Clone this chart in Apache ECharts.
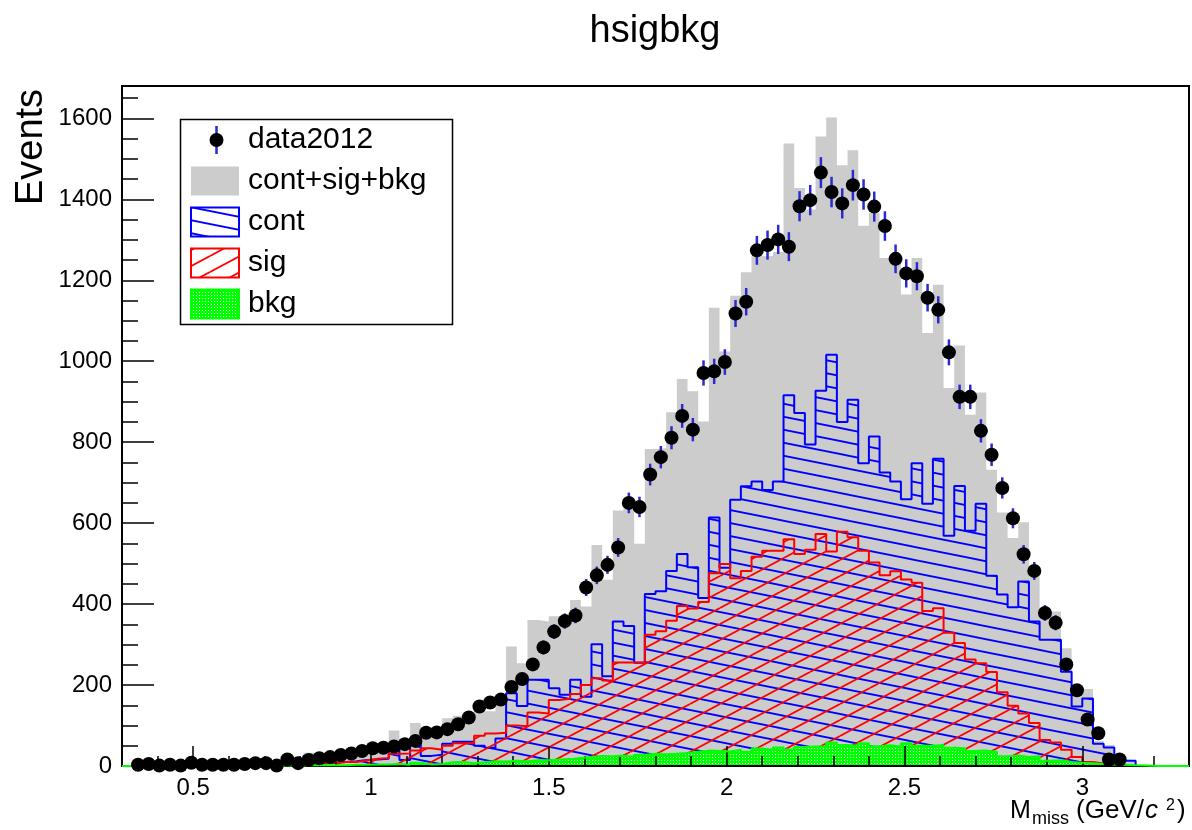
<!DOCTYPE html>
<html>
<head>
<meta charset="utf-8">
<script src="https://cdn.jsdelivr.net/npm/echarts@6/dist/echarts.min.js"></script>
<style>
  html, body { margin: 0; padding: 0; background: #ffffff; }
  #chart { width: 1192px; height: 830px; }
</style>
</head>
<body>
<div id="chart"></div>
<script>
// Binning of the missing-mass histograms: 100 bins of 0.03 GeV/c^2 starting at 0.3
const binLow = 0.3;
const binWidth = 0.03;

// Observed events (data2012), one entry per bin
const dataCounts = [
  0, 3, 5, 1, 3, 1, 8, 3, 3, 3,
  3, 5, 7, 7, 1, 16, 7, 15, 19, 22,
  27, 31, 37, 44, 45, 48, 54, 62, 82, 83,
  91, 103, 120, 147, 157, 164, 195, 215, 251, 293,
  332, 358, 372, 441, 471, 497, 540, 650, 640, 720,
  763, 811, 865, 831, 971, 975, 998, 1118, 1147, 1274,
  1287, 1301, 1283, 1383, 1398, 1466, 1418, 1390, 1435, 1412,
  1382, 1334, 1253, 1217, 1210, 1157, 1127, 1022, 912, 912,
  828, 769, 687, 612, 523, 482, 378, 354, 251, 187,
  115, 81, 16, 16, 0, 0, 0, 0, 0, 0
];

// cont+sig+bkg
const totalCounts = [
  0, 0, 0, 0, 0, 0, 1, 1, 1, 1,
  2, 2, 3, 3, 5, 10, 12, 33, 30, 25,
  28, 30, 35, 40, 45, 88, 52, 106, 76, 78,
  118, 124, 124, 135, 135, 160, 295, 254, 361, 357,
  370, 372, 410, 394, 546, 460, 631, 640, 549, 783,
  785, 874, 956, 926, 851, 1132, 1024, 1162, 1220, 1260,
  1260, 1270, 1538, 1428, 1375, 1555, 1602, 1484, 1521, 1335,
  1367, 1255, 1240, 1165, 1255, 1070, 1189, 934, 1039, 868,
  923, 732, 626, 563, 602, 490, 382, 382, 291, 190,
  190, 62, 52, 16, 15, 0, 0, 0, 0, 0
];

// cont
const contCounts = [
  0, 0, 0, 0, 0, 0, 0, 0, 0, 0,
  0, 0, 0, 0, 0, 2, 3, 25, 10, 8,
  10, 12, 15, 16, 18, 52, 15, 60, 25, 28,
  55, 60, 60, 50, 45, 68, 180, 148, 213, 213,
  192, 176, 213, 171, 301, 222, 357, 346, 255, 425,
  432, 482, 524, 491, 415, 614, 490, 658, 691, 703,
  682, 703, 916, 872, 794, 927, 1016, 850, 905, 748,
  814, 725, 703, 659, 748, 648, 759, 569, 692, 581,
  648, 470, 424, 392, 456, 357, 312, 312, 233, 147,
  167, 55, 46, 13, 13, 0, 0, 0, 0, 0
];

// sig
const sigCounts = [
  0, 0, 0, 0, 0, 0, 0, 0, 0, 0,
  0, 0, 0, 0, 0, 1, 2, 5, 6, 8,
  10, 10, 14, 18, 20, 30, 31, 38, 44, 40,
  50, 56, 56, 75, 80, 82, 100, 98, 132, 130,
  163, 166, 178, 200, 217, 211, 256, 256, 256, 324,
  333, 359, 395, 389, 405, 476, 499, 464, 482, 517,
  532, 532, 560, 524, 534, 573, 530, 579, 565, 532,
  503, 471, 481, 461, 453, 383, 390, 329, 304, 263,
  254, 232, 182, 149, 130, 106, 64, 58, 40, 22,
  10, 6, 2, 0, 0, 0, 0, 0, 0, 0
];

// bkg
const bkgCounts = [
  0, 0, 0, 0, 0, 0, 0, 0, 0, 0,
  0, 0, 0, 0, 1, 1, 1, 2, 2, 2,
  2, 3, 3, 4, 4, 5, 3, 8, 4, 5,
  9, 10, 7, 9, 12, 11, 13, 12, 14, 14,
  16, 17, 20, 22, 25, 24, 26, 23, 28, 30,
  29, 30, 32, 35, 38, 37, 36, 40, 35, 43,
  40, 46, 41, 47, 48, 48, 58, 52, 50, 56,
  49, 51, 48, 56, 50, 50, 52, 45, 44, 37,
  38, 35, 24, 26, 22, 24, 13, 14, 10, 8,
  7, 5, 4, 3, 2, 1, 0, 0, 0, 0
];

// Axis tick positions
const xMajorTicks = [0.5, 1, 1.5, 2, 2.5, 3];
const xMinorTicks = [0.4, 0.6, 0.7, 0.8, 0.9, 1.1, 1.2, 1.3, 1.4, 1.6, 1.7, 1.8, 1.9,
                     2.1, 2.2, 2.3, 2.4, 2.6, 2.7, 2.8, 2.9, 3.1, 3.2];
const yMajorTicks = [0, 200, 400, 600, 800, 1000, 1200, 1400, 1600];
const yMinorTicks = [50, 100, 150, 250, 300, 350, 450, 500, 550, 650, 700, 750,
                     850, 900, 950, 1050, 1100, 1150, 1250, 1300, 1350, 1450, 1500, 1550, 1650];

const legendLabels = ['data2012', 'cont+sig+bkg', 'cont', 'sig', 'bkg'];

const FONT = '"Liberation Sans", Arial, Helvetica, sans-serif';

// ---- fill patterns (ROOT-like hatches) ----
function makeTile(w, h, paint) {
  const c = document.createElement('canvas');
  c.width = w; c.height = h;
  paint(c.getContext('2d'), w, h);
  return c;
}
const blueHatch = makeTile(65, 13, (g, w, h) => {
  g.strokeStyle = '#0000ff'; g.lineWidth = 1.8;
  for (const o of [-h, 0, h]) { g.beginPath(); g.moveTo(0, o); g.lineTo(w, o + h); g.stroke(); }
});
const redHatch = makeTile(30, 16, (g, w, h) => {
  g.strokeStyle = '#ff0000'; g.lineWidth = 1.8;
  for (const o of [-h, 0, h]) { g.beginPath(); g.moveTo(0, o + h); g.lineTo(w, o); g.stroke(); }
});
const greenDots = makeTile(3, 3, (g) => {
  g.fillStyle = '#00ff00'; g.fillRect(0, 0, 3, 3);
  g.fillStyle = '#e8ffe8'; g.fillRect(1, 1, 1, 1);
});
const bluePattern = { image: blueHatch, repeat: 'repeat' };
const redPattern = { image: redHatch, repeat: 'repeat' };
const greenPattern = { image: greenDots, repeat: 'repeat' };

// ---- histogram as a stepped outline over the bin edges ----
function histSeries(name, counts, lineColor, fill, z) {
  const pts = counts.map((v, k) => [binLow + k * binWidth, v]);
  pts.push([binLow + counts.length * binWidth, counts[counts.length - 1]]);
  return {
    type: 'line', name: name, data: pts, step: 'end',
    symbol: 'none', showSymbol: false, silent: true, animation: false, z: z,
    lineStyle: lineColor ? { color: lineColor, width: 2 } : { width: 0, opacity: 0 },
    areaStyle: { color: fill, opacity: 1 },
    emphasis: { disabled: true }
  };
}

const dataPoints = dataCounts
  .map((v, k) => [binLow + (k + 0.5) * binWidth, v])
  .filter(d => d[1] > 0);

const chart = echarts.init(document.getElementById('chart'), null, { renderer: 'canvas' });

// ---- x-axis title: M_miss (GeV/c^2), laid out piece by piece ----
const xTitleParts = [
  { t: 'M', font: '25px ' + FONT, x: 1010, mid: 811 },
  { t: 'miss', font: '18px ' + FONT, x: 1032, mid: 819.5 },
  { t: '(GeV/', font: '26px ' + FONT, x: 1076, mid: 811 },
  { t: 'c', font: 'italic 26px ' + FONT, x: 1145, mid: 811 },
  { t: '2', font: '16px ' + FONT, x: 1166, mid: 806 },
  { t: ')', font: '26px ' + FONT, x: 1177, mid: 811 }
];
const xTitleElements = xTitleParts.map(p => ({
  type: 'text', x: p.x, y: p.mid, z: 50,
  style: { text: p.t, font: p.font, fill: '#000', textAlign: 'left', textVerticalAlign: 'middle' }
}));

// ---- legend box ----
const legX = 180.5, legY = 119.5, legW = 272, legH = 205;
const rowMid = [140, 181, 222, 263, 304];
const symX = 191, symW = 48, symH = 29;
const legendElements = [
  { type: 'rect', z: 60, shape: { x: legX, y: legY, width: legW, height: legH },
    style: { fill: '#ffffff', stroke: '#000000', lineWidth: 1.5 } },
  { type: 'line', z: 61, shape: { x1: 216.5, y1: rowMid[0] - 14, x2: 216.5, y2: rowMid[0] + 14 },
    style: { stroke: '#2a2ad0', lineWidth: 2.5 } },
  { type: 'circle', z: 62, shape: { cx: 216.5, cy: rowMid[0], r: 7 }, style: { fill: '#000000' } },
  { type: 'rect', z: 61, shape: { x: symX, y: rowMid[1] - symH / 2, width: symW, height: symH },
    style: { fill: '#cccccc' } },
  { type: 'rect', z: 61, shape: { x: symX, y: rowMid[2] - symH / 2, width: symW, height: symH },
    style: { fill: bluePattern, stroke: '#0000ff', lineWidth: 2 } },
  { type: 'rect', z: 61, shape: { x: symX, y: rowMid[3] - symH / 2, width: symW, height: symH },
    style: { fill: redPattern, stroke: '#ff0000', lineWidth: 2 } },
  { type: 'rect', z: 61, shape: { x: symX, y: rowMid[4] - symH / 2, width: symW, height: symH },
    style: { fill: greenPattern, stroke: '#00ff00', lineWidth: 2 } }
];
legendLabels.forEach((lab, i) => {
  legendElements.push({
    type: 'text', z: 62, x: 248, y: rowMid[i],
    style: { text: lab, font: '30px ' + FONT, fill: '#000', textAlign: 'left', textVerticalAlign: 'middle' }
  });
});

const axisFont = { fontSize: 24, fontFamily: FONT, color: '#000000', formatter: v => String(v) };

const option = {
  backgroundColor: '#ffffff',
  animation: false,
  grid: { left: 122, right: 3, top: 86, bottom: 64, show: true, borderColor: '#000000', borderWidth: 2,
          backgroundColor: 'transparent' },
  xAxis: [
    {
      type: 'value', min: 0.3, max: 3.3, position: 'bottom', z: 5,
      axisLine: { show: true, onZero: false, lineStyle: { color: '#000000', width: 2 } },
      axisTick: { show: true, inside: true, length: 20, customValues: xMajorTicks,
                  lineStyle: { color: '#000000', width: 1.5 } },
      axisLabel: Object.assign({ show: true, margin: 10, customValues: xMajorTicks }, axisFont),
      splitLine: { show: false }
    },
    {
      type: 'value', min: 0.3, max: 3.3, position: 'bottom', z: 5,
      axisLine: { show: false },
      axisTick: { show: true, inside: true, length: 10, customValues: xMinorTicks,
                  lineStyle: { color: '#000000', width: 1.5 } },
      axisLabel: { show: false },
      splitLine: { show: false }
    }
  ],
  yAxis: [
    {
      type: 'value', min: 0, max: 1680, position: 'left', z: 5,
      axisLine: { show: true, onZero: false, lineStyle: { color: '#000000', width: 2 } },
      axisTick: { show: true, inside: true, length: 32, customValues: yMajorTicks,
                  lineStyle: { color: '#000000', width: 1.5 } },
      axisLabel: Object.assign({ show: true, margin: 10, customValues: yMajorTicks }, axisFont),
      splitLine: { show: false }
    },
    {
      type: 'value', min: 0, max: 1680, position: 'left', z: 5,
      axisLine: { show: false },
      axisTick: { show: true, inside: true, length: 16, customValues: yMinorTicks,
                  lineStyle: { color: '#000000', width: 1.5 } },
      axisLabel: { show: false },
      splitLine: { show: false }
    }
  ],
  series: [
    histSeries('cont+sig+bkg', totalCounts, null, '#cccccc', 2),
    histSeries('cont', contCounts, '#0000ff', bluePattern, 3),
    histSeries('sig', sigCounts, '#ff0000', redPattern, 4),
    histSeries('bkg', bkgCounts, '#00ff00', greenPattern, 5),
    {
      type: 'custom', name: 'data2012', data: dataPoints, z: 8, silent: true, animation: false,
      renderItem: function (params, api) {
        const x = api.value(0), y = api.value(1), err = Math.sqrt(y);
        const c = api.coord([x, y]);
        const hi = api.coord([x, y + err]);
        const lo = api.coord([x, Math.max(0, y - err)]);
        return {
          type: 'group',
          children: [
            { type: 'line', shape: { x1: c[0], y1: hi[1], x2: c[0], y2: lo[1] },
              style: { stroke: '#2a2ad0', lineWidth: 2.5 } },
            { type: 'circle', shape: { cx: c[0], cy: c[1], r: 7 }, style: { fill: '#000000' } }
          ]
        };
      }
    }
  ],
  graphic: {
    elements: [
      { type: 'text', x: 655, y: 32, z: 50,
        style: { text: 'hsigbkg', font: '38px ' + FONT, fill: '#000', textAlign: 'center', textVerticalAlign: 'middle' } },
      { type: 'text', x: 32, y: 147, rotation: Math.PI / 2, z: 50,
        style: { text: 'Events', font: '38px ' + FONT, fill: '#000', textAlign: 'center', textVerticalAlign: 'middle' } }
    ].concat(xTitleElements, legendElements)
  }
};

chart.setOption(option);
</script>
</body>
</html>
